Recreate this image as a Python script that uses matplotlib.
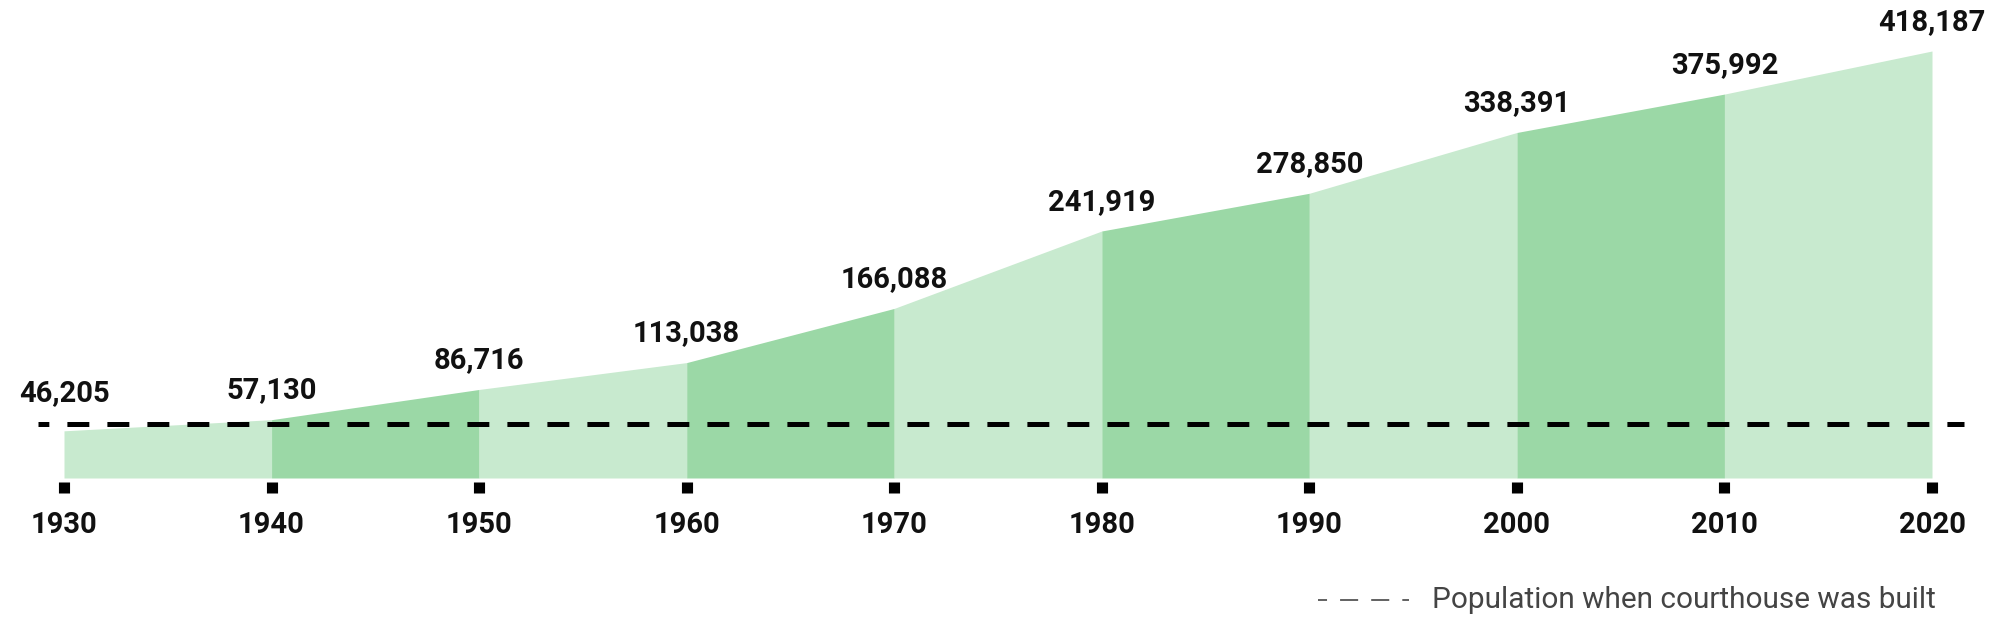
import matplotlib
matplotlib.use("Agg")
import matplotlib.pyplot as plt
from matplotlib.lines import Line2D
import matplotlib.transforms as mtransforms

years = [1930, 1940, 1950, 1960, 1970, 1980, 1990, 2000, 2010, 2020]
population = [46205, 57130, 86716, 113038, 166088, 241919, 278850, 338391, 375992, 418187]
year_labels = ["1930", "1940", "1950", "1960", "1970", "1980", "1990", "2000", "2010", "2020"]
courthouse_population = 53000
legend_label = "Population when courthouse was built"

LIGHT = "#c8eacf"
DARK = "#9bd8a6"

plt.rcParams['font.family'] = ['Roboto', 'DejaVu Sans']
plt.rcParams['lines.scale_dashes'] = False

W, H = 2000, 627
fig = plt.figure(figsize=(W / 100, H / 100), dpi=100)
left_px, right_px, base_px, top_px = 64, 1932, 478, 51
ax = fig.add_axes([left_px / W, 1 - base_px / H, (right_px - left_px) / W, (base_px - top_px) / H])
ax.set_xlim(years[0], years[-1])
ax.set_ylim(0, max(population))

for i in range(len(years) - 1):
    color = DARK if i % 2 == 1 else LIGHT
    ax.fill_between(years[i:i + 2], population[i:i + 2], 0, color=color, linewidth=0, clip_on=False)

# dashed reference line (x in axes fraction, y in data)
trans = mtransforms.blended_transform_factory(ax.transAxes, ax.transData)
x0 = (38 - left_px) / (right_px - left_px)
x1 = (1964 - left_px) / (right_px - left_px)
ax.plot([x0, x1], [courthouse_population, courthouse_population], transform=trans,
        color="black", linewidth=3.6, linestyle=(8.0, (15.8, 13.0)),
        solid_capstyle="butt", dash_capstyle="butt", clip_on=False, zorder=3)

# value labels (first label nudged up to clear the dashed line)
for i, (x, v) in enumerate(zip(years, population)):
    dy = 17 if i == 0 else 11
    ax.annotate(f"{v:,}", (x, v), xytext=(0, dy), textcoords="offset points",
                ha="center", va="bottom", fontsize=21, fontweight="bold", color="#111111",
                annotation_clip=False)

# axes styling
for s in ["top", "right", "left"]:
    ax.spines[s].set_visible(False)
ax.spines["bottom"].set_position(("outward", 3))
ax.spines["bottom"].set_visible(False)
ax.set_yticks([])
ax.set_xticks(years)
ax.set_xticklabels(year_labels, fontsize=21, fontweight="bold", color="#111111")
ax.tick_params(axis="x", direction="out", length=8, width=8, color="black", pad=13)
ax.patch.set_alpha(0)

# legend
lx0, lx1, ly = 1318 / W, 1409 / W, 1 - 600 / H
leg_line = Line2D([lx0, lx1], [ly, ly], transform=fig.transFigure, color="#555555",
                  linewidth=1.3, linestyle=(6.5, (13.0, 9.4)), dash_capstyle="butt")
fig.add_artist(leg_line)
fig.text(1936 / W, ly, legend_label, ha="right", va="center", fontsize=21.4, color="#444444")

fig.savefig("out.png", dpi=100)
